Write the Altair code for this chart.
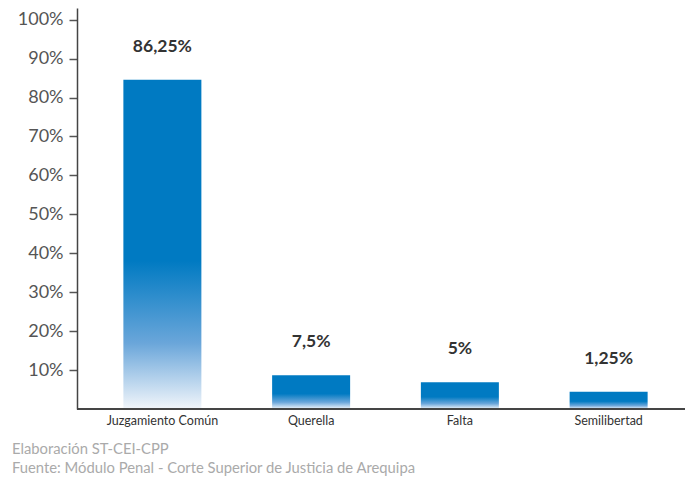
import altair as alt
import pandas as pd

categories = ["Juzgamiento Común", "Querella", "Falta", "Semilibertad"]
bar_heights = [84.6, 8.7, 6.9, 4.4]
value_labels = ["86,25%", "7,5%", "5%", "1,25%"]
footer_lines = ["Elaboración ST-CEI-CPP", "Fuente: Módulo Penal - Corte Superior de Justicia de Arequipa"]
y_ticks = [10, 20, 30, 40, 50, 60, 70, 80, 90, 100]

df = pd.DataFrame({"cat": categories, "val": bar_heights, "lab": value_labels})

W, H = 595, 401
FONT = "Lato"
BLUE = "#007ac2"

x_enc = alt.X("cat:N", sort=categories, title=None,
              scale=alt.Scale(paddingInner=0, paddingOuter=0),
              axis=alt.Axis(domain=False, ticks=False, labelAngle=0, labelFontSize=12.5,
                            labelColor="#333", labelFont=FONT, labelPadding=5))
y_enc = alt.Y("val:Q", title=None,
              scale=alt.Scale(domain=[0, 103], nice=False, zero=True),
              axis=alt.Axis(values=y_ticks, labelExpr="datum.value + '%'", grid=False,
                            offset=11, domainColor="#444", domainWidth=1.5,
                            tickColor="#555", tickSize=8, tickWidth=1.5,
                            labelFontSize=18, labelColor="#555", labelFont=FONT,
                            labelPadding=6))

gradient = alt.Gradient(
    gradient="linear", x1=0, x2=0, y1=0, y2=1,
    stops=[alt.GradientStop(color=BLUE, offset=0),
           alt.GradientStop(color=BLUE, offset=0.55),
           alt.GradientStop(color="#6aa6da", offset=0.8),
           alt.GradientStop(color="#f2f6fb", offset=1)])

bars = alt.Chart(df).mark_bar(size=78, color=gradient).encode(x=x_enc, y=y_enc)

texts = alt.Chart(df).mark_text(dy=-33, baseline="middle", fontWeight="bold", fontSize=17.5,
                                font=FONT, color="#333").encode(
    x=alt.X("cat:N", sort=categories), y="val:Q", text="lab:N")

xline = alt.Chart(df).mark_rule(color="#444", strokeWidth=1.5).encode(
    x=alt.value(-11), x2=alt.value(W + 2), y=alt.value(H))

chart = alt.layer(bars, texts, xline).properties(
    width=W, height=H,
    padding={"left": 80, "top": 0, "right": 2, "bottom": 68},
    autosize=alt.AutoSizeParams(type="none"),
    title=alt.TitleParams(text=footer_lines, orient="bottom", anchor="start", frame="group",
                          dx=-76, offset=15, fontSize=14.8, fontWeight="normal", font=FONT,
                          color="#aaa", lineHeight=19),
).configure_view(stroke=None)

chart.save("out.html", embed_options={"renderer": "svg", "actions": False})
